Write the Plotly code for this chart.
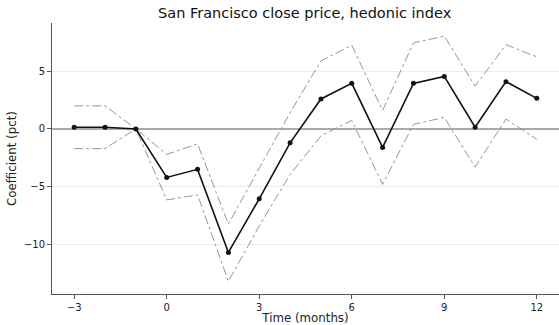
import plotly.graph_objects as go

# Event-study coefficients (percent) by month relative to event
months = [-3, -2, -1, 0, 1, 2, 3, 4, 5, 6, 7, 8, 9, 10, 11, 12]
coef = [0.15, 0.15, 0.0, -4.2, -3.5, -10.7, -6.05, -1.2, 2.6, 3.95, -1.6, 3.95, 4.55, 0.15, 4.1, 2.65]
upper = [2.0, 2.0, 0.0, -2.2, -1.3, -8.25, -3.4, 1.4, 5.9, 7.25, 1.6, 7.45, 8.05, 3.7, 7.3, 6.25]
lower = [-1.7, -1.7, 0.0, -6.15, -5.7, -13.2, -8.4, -3.95, -0.6, 0.75, -4.8, 0.4, 1.0, -3.3, 0.85, -0.9]

x_ticks = [-3, 0, 3, 6, 9, 12]
x_tick_labels = ["\u22123", "0", "3", "6", "9", "12"]
y_ticks = [-10, -5, 0, 5]
y_tick_labels = ["\u221210", "\u22125", "0", "5"]

font = "DejaVu Sans"
band_style = dict(color="#8a8a8a", width=0.9, dash="dashdot")

fig = go.Figure()

# zero reference line
fig.add_trace(go.Scatter(
    x=[-3.72, 12.72], y=[0, 0], mode="lines",
    line=dict(color="#aaaaaa", width=2), hoverinfo="skip", showlegend=False,
))

fig.add_trace(go.Scatter(x=months, y=upper, mode="lines", line=band_style, showlegend=False))
fig.add_trace(go.Scatter(x=months, y=lower, mode="lines", line=band_style, showlegend=False))
fig.add_trace(go.Scatter(
    x=months, y=coef, mode="lines+markers",
    line=dict(color="#111111", width=1.6),
    marker=dict(color="#111111", size=5),
    showlegend=False,
))

fig.update_layout(
    width=559, height=325,
    margin=dict(l=52, r=0, t=23, b=31),
    paper_bgcolor="white", plot_bgcolor="white",
    font=dict(family=font, size=10, color="#222222"),
    title=dict(
        text="San Francisco close price, hedonic index",
        x=0.545, xanchor="center", y=0.96, yanchor="middle",
        font=dict(family=font, size=14.5, color="#111111"),
    ),
    xaxis=dict(
        range=[-3.72, 12.72], tickvals=x_ticks, ticktext=x_tick_labels,
        showgrid=False, zeroline=False,
        showline=True, linecolor="#555555", linewidth=1,
        ticks="outside", ticklen=4, tickcolor="#555555",
        title=dict(text="Time (months)", standoff=3, font=dict(family=font, size=11.8, color="#222222")),
    ),
    yaxis=dict(
        range=[-14.3, 9.18], tickvals=y_ticks, ticktext=y_tick_labels,
        showgrid=True, gridcolor="#ececec", gridwidth=1.2, zeroline=False,
        showline=True, linecolor="#555555", linewidth=1,
        ticks="outside", ticklen=4, tickcolor="#555555",
        title=dict(text="Coefficient (pct)", standoff=4, font=dict(family=font, size=11.8, color="#222222")),
    ),
)

fig.write_html("out.html")
